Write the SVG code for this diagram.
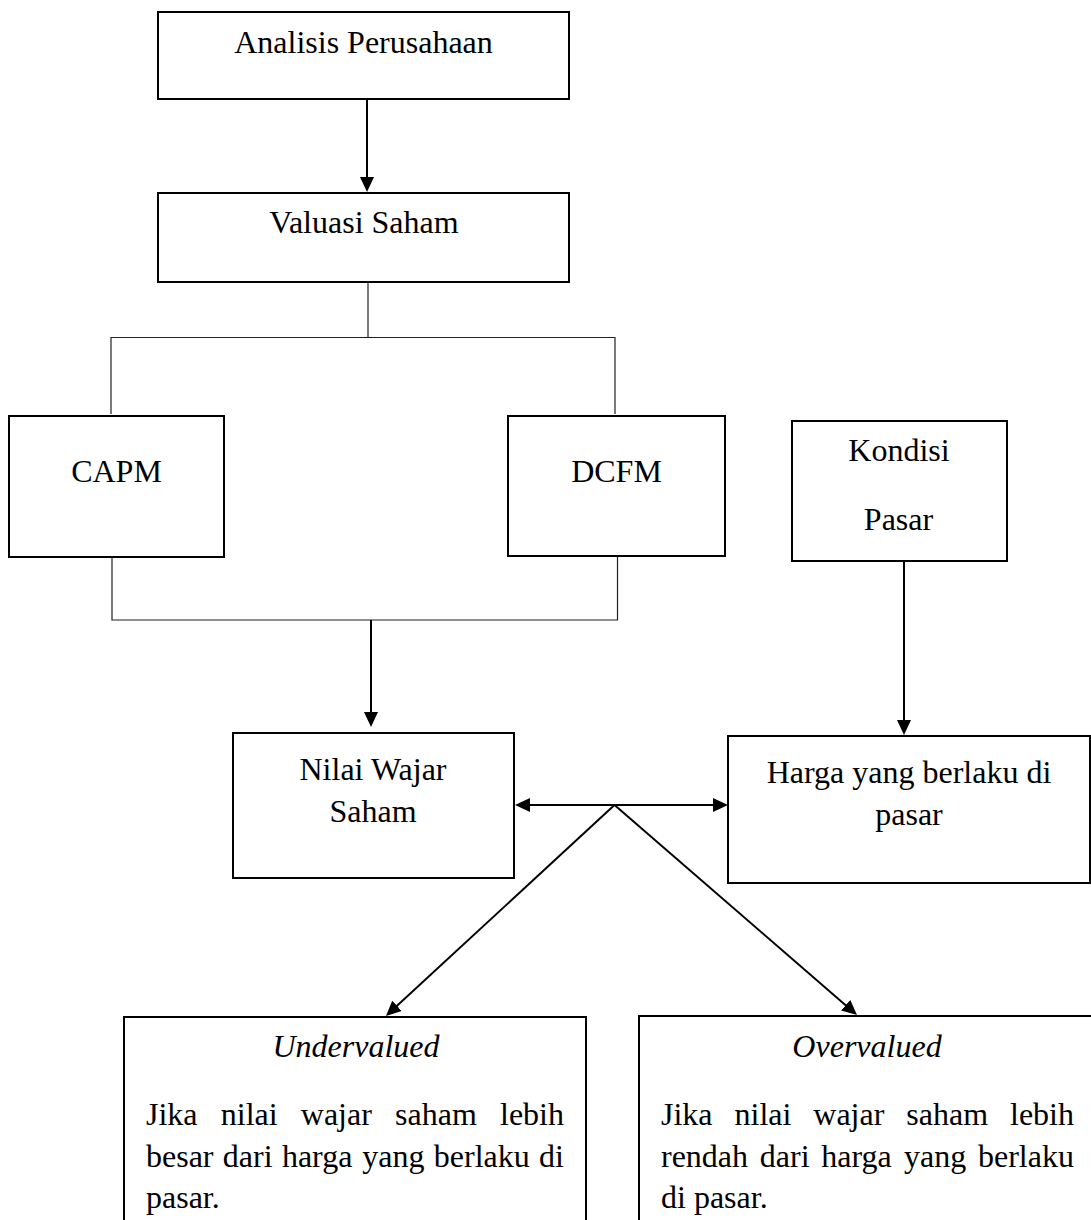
<svg xmlns="http://www.w3.org/2000/svg" width="1091" height="1220" viewBox="0 0 1091 1220">
<style>
.box{fill:#fff;stroke:#000;stroke-width:2}
.t{font-family:"Liberation Serif","Times New Roman",serif;font-size:32px;fill:#000}
.c{text-anchor:middle}
.i{font-style:italic}
.ar{fill:none;stroke:#000;stroke-width:2}
.br{fill:none;stroke:#222;stroke-width:1.2}
</style>
<defs>
<marker id="ah" markerUnits="userSpaceOnUse" markerWidth="16" markerHeight="14" refX="11" refY="7" orient="auto-start-reverse">
<path d="M0,0 L15,7 L0,14 z" fill="#000"/>
</marker>
</defs>
<rect width="1091" height="1220" fill="#fff"/>
<g id="connectors">
<line class="ar" x1="367" y1="99" x2="367" y2="188" marker-end="url(#ah)"/>
<polyline class="br" points="368,283 368,337.5"/>
<polyline class="br" points="111,414 111,337.5 615,337.5 615,414"/>
<polyline class="br" points="112,557 112,620 617.5,620 617.5,556"/>
<line class="ar" x1="371" y1="620" x2="371" y2="723" marker-end="url(#ah)"/>
<line class="ar" x1="904" y1="561" x2="904" y2="731" marker-end="url(#ah)"/>
<line class="ar" x1="519" y1="805" x2="724" y2="805" marker-start="url(#ah)" marker-end="url(#ah)"/>
<line class="ar" x1="614.5" y1="805" x2="388.9" y2="1013.3" marker-end="url(#ah)"/>
<line class="ar" x1="614.5" y1="805" x2="854" y2="1012.4" marker-end="url(#ah)"/>
</g>
<g id="analisis">
<rect class="box" x="158" y="12" width="411" height="87"/>
<text class="t c" x="363.5" y="53">Analisis Perusahaan</text>
</g>
<g id="valuasi">
<rect class="box" x="158" y="193" width="411" height="89"/>
<text class="t c" x="364" y="233">Valuasi Saham</text>
</g>
<g id="capm">
<rect class="box" x="9" y="416" width="215" height="141"/>
<text class="t c" x="116.5" y="482">CAPM</text>
</g>
<g id="dcfm">
<rect class="box" x="508" y="416" width="217" height="140"/>
<text class="t c" x="616.5" y="482">DCFM</text>
</g>
<g id="kondisi">
<rect class="box" x="792" y="421" width="215" height="140"/>
<text class="t c" x="899" y="461">Kondisi</text>
<text class="t c" x="898.5" y="530">Pasar</text>
</g>
<g id="nilai">
<rect class="box" x="233" y="733" width="281" height="145"/>
<text class="t c" x="373" y="780">Nilai Wajar</text>
<text class="t c" x="373" y="822">Saham</text>
</g>
<g id="harga">
<rect class="box" x="728" y="736" width="362" height="147"/>
<text class="t c" x="909" y="783">Harga yang berlaku di</text>
<text class="t c" x="909" y="825">pasar</text>
</g>
<g id="undervalued">
<rect class="box" x="124" y="1017" width="462" height="230"/>
<text class="t c i" x="356" y="1057">Undervalued</text>
<text class="t" y="1125"><tspan x="146">Jika</tspan><tspan x="220.8">nilai</tspan><tspan x="300.8">wajar</tspan><tspan x="395.1">saham</tspan><tspan x="500">lebih</tspan></text>
<text class="t" y="1167"><tspan x="146">besar</tspan><tspan x="222.8">dari</tspan><tspan x="281.9">harga</tspan><tspan x="362.3">yang</tspan><tspan x="433.8">berlaku</tspan><tspan x="539.1">di</tspan></text>
<text class="t" x="146" y="1208">pasar.</text>
</g>
<g id="overvalued">
<rect class="box" x="639" y="1016" width="456" height="230"/>
<text class="t c i" x="867" y="1057">Overvalued</text>
<text class="t" y="1125"><tspan x="661">Jika</tspan><tspan x="734.5">nilai</tspan><tspan x="813.3">wajar</tspan><tspan x="906.3">saham</tspan><tspan x="1010">lebih</tspan></text>
<text class="t" y="1167"><tspan x="661">rendah</tspan><tspan x="759.8">dari</tspan><tspan x="821.3">harga</tspan><tspan x="904.1">yang</tspan><tspan x="978">berlaku</tspan></text>
<text class="t" x="661" y="1208">di pasar.</text>
</g>
</svg>
